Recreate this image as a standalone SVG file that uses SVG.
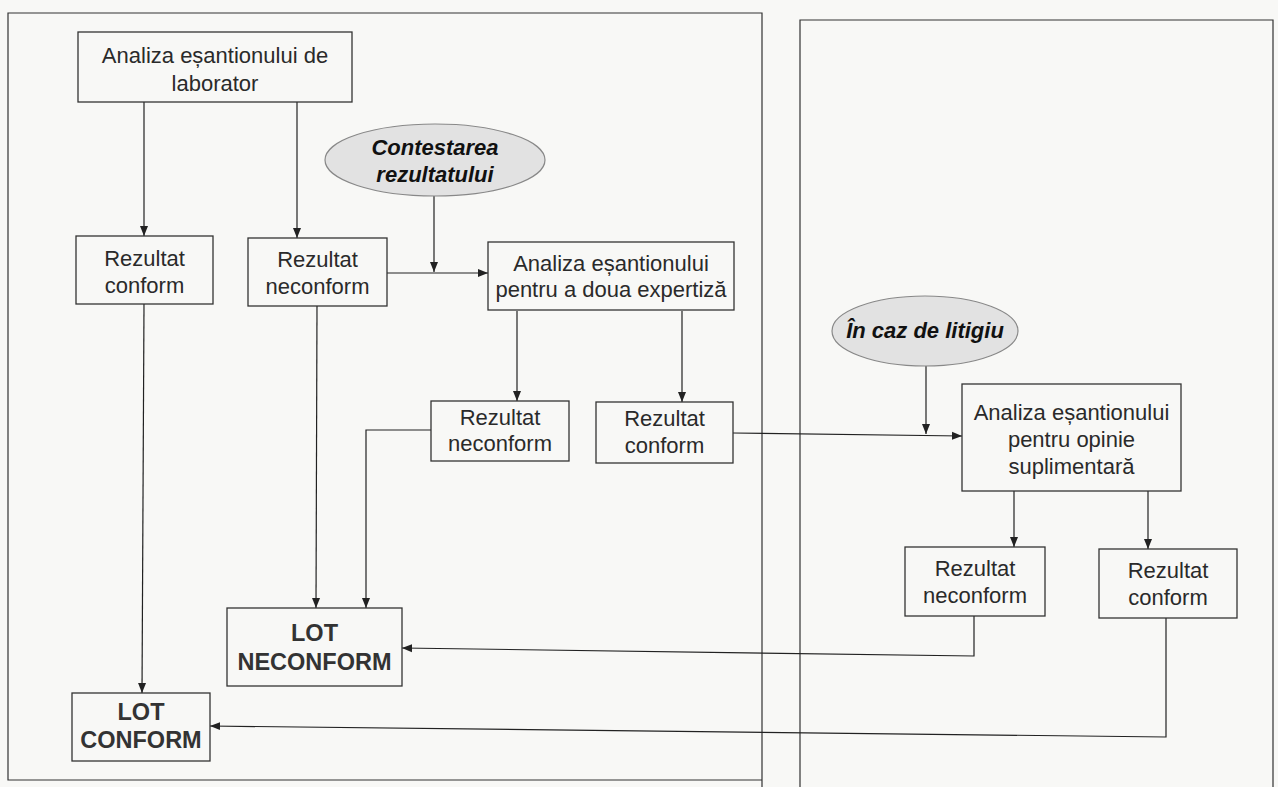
<svg xmlns="http://www.w3.org/2000/svg" width="1278" height="787" viewBox="0 0 1278 787">
<defs>
<marker id="arr" markerUnits="userSpaceOnUse" markerWidth="10" markerHeight="10" viewBox="0 0 10 10" refX="10" refY="5" orient="auto">
<path d="M0,1 L10,5 L0,9 Z" fill="#222"/>
</marker>
</defs>
<style>
.panel{fill:none;stroke:#333;stroke-width:1.2}
.box{fill:none;stroke:#333;stroke-width:1.3}
.ell{fill:#e2e2e2;stroke:#888;stroke-width:1.2}
.t{font-family:"Liberation Sans",Arial,sans-serif;font-size:22px;fill:#2a2a2a;text-anchor:middle}
.bi{font-weight:bold;font-style:italic;fill:#111}
.b{font-weight:bold;fill:#333;font-size:23.5px}
.c{fill:none;stroke:#222;stroke-width:1.2;marker-end:url(#arr)}
</style>
<rect width="1278" height="787" fill="#f8f8f6"/>
<g id="panels">
<path class="panel" d="M762,787 V13 H8 V780 H762"/>
<path class="panel" d="M800,787 V20 H1273 V787"/>
</g>
<g id="connectors">
<path class="c" d="M144,102 V236"/>
<path class="c" d="M297,102 V238"/>
<path class="c" d="M434,196 V272"/>
<path class="c" d="M387,273 H488"/>
<path class="c" d="M517,311 V401"/>
<path class="c" d="M682,311 V402"/>
<path class="c" d="M144,304 L142,693"/>
<path class="c" d="M317,306 L316,608"/>
<path class="c" d="M431,430 H366 V608"/>
<path class="c" d="M733,433 L962,436"/>
<path class="c" d="M926,366 V434"/>
<path class="c" d="M1014,491 V547"/>
<path class="c" d="M1148,491 V549"/>
<path class="c" d="M974,616 V656 L402,648"/>
<path class="c" d="M1166,618 V737 L210,726"/>
</g>
<g id="n-analiza-lab">
<rect class="box" x="78" y="32" width="274" height="70"/>
<text class="t" x="215" y="63">Analiza eșantionului de</text>
<text class="t" x="215" y="91">laborator</text>
</g>
<g id="n-contestarea">
<ellipse class="ell" cx="435" cy="160" rx="110" ry="36"/>
<text class="t bi" x="435" y="155">Contestarea</text>
<text class="t bi" x="435" y="182">rezultatului</text>
</g>
<g id="n-conform1">
<rect class="box" x="76" y="236" width="137" height="68"/>
<text class="t" x="144.5" y="266">Rezultat</text>
<text class="t" x="144.5" y="293">conform</text>
</g>
<g id="n-neconform1">
<rect class="box" x="248" y="238" width="139" height="68"/>
<text class="t" x="317.5" y="267">Rezultat</text>
<text class="t" x="317.5" y="294">neconform</text>
</g>
<g id="n-analiza-expertiza">
<rect class="box" x="488" y="242" width="246" height="68"/>
<text class="t" x="611" y="271">Analiza eșantionului</text>
<text class="t" x="611" y="297">pentru a doua expertiză</text>
</g>
<g id="n-neconform2">
<rect class="box" x="431" y="401" width="138" height="60"/>
<text class="t" x="500" y="425">Rezultat</text>
<text class="t" x="500" y="451">neconform</text>
</g>
<g id="n-conform2">
<rect class="box" x="596" y="402" width="137" height="61"/>
<text class="t" x="664.5" y="426">Rezultat</text>
<text class="t" x="664.5" y="453">conform</text>
</g>
<g id="n-litigiu">
<ellipse class="ell" cx="925" cy="331" rx="93" ry="35"/>
<text class="t bi" x="925" y="338">În caz de litigiu</text>
</g>
<g id="n-analiza-opinie">
<rect class="box" x="962" y="384" width="219" height="107"/>
<text class="t" x="1071.5" y="420">Analiza eșantionului</text>
<text class="t" x="1071.5" y="447">pentru opinie</text>
<text class="t" x="1071.5" y="474">suplimentară</text>
</g>
<g id="n-neconform3">
<rect class="box" x="905" y="547" width="140" height="69"/>
<text class="t" x="975" y="576">Rezultat</text>
<text class="t" x="975" y="603">neconform</text>
</g>
<g id="n-conform3">
<rect class="box" x="1099" y="549" width="138" height="69"/>
<text class="t" x="1168" y="578">Rezultat</text>
<text class="t" x="1168" y="605">conform</text>
</g>
<g id="n-lot-neconform">
<rect class="box" x="227" y="608" width="175" height="78"/>
<text class="t b" x="314.5" y="641">LOT</text>
<text class="t b" x="314.5" y="670">NECONFORM</text>
</g>
<g id="n-lot-conform">
<rect class="box" x="72" y="693" width="138" height="68"/>
<text class="t b" x="141" y="720">LOT</text>
<text class="t b" x="141" y="748">CONFORM</text>
</g>
</svg>
